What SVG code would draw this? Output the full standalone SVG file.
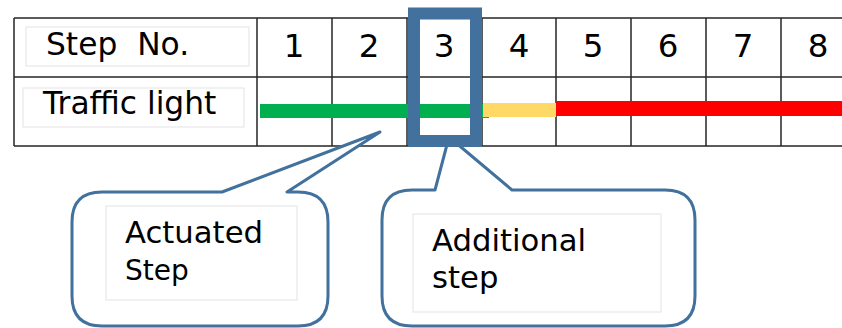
<svg xmlns="http://www.w3.org/2000/svg" width="842" height="328" viewBox="0 0 842 328">
  <style>
    text { font-family: "DejaVu Sans", Verdana, sans-serif; fill: #000; }
    .grid { stroke: #262626; stroke-width: 1.5; fill: none; }
    .lbl { fill: #fff; stroke: #e8e8e8; stroke-width: 1.2; }
    .hd { font-size: 31.3px; }
    .num { font-size: 32.5px; text-anchor: middle; }
    .bubble { fill: #fff; stroke: #41719c; stroke-width: 3; stroke-linejoin: round; }
    .cap { font-size: 30.7px; }
  </style>

  <rect width="842" height="328" fill="#fff"/>

  <!-- step table -->
  <g id="table">
    <path class="grid" d="M14 18 H842 M14 77 H842 M14 146 H842 M14 18 V146
             M257 18 V146 M332 18 V146 M407 18 V146 M482 18 V146
             M556 18 V146 M631 18 V146 M706 18 V146 M781 18 V146"/>
    <rect class="lbl" x="26" y="27" width="223" height="39"/>
    <rect class="lbl" x="23" y="88" width="221" height="39"/>
    <text class="hd" x="46" y="55" xml:space="preserve">Step  No.</text>
    <text class="hd" x="43" y="114">Traffic light</text>
    <text class="num" x="294" y="57">1</text>
    <text class="num" x="369" y="57">2</text>
    <text class="num" x="444" y="57">3</text>
    <text class="num" x="519" y="57">4</text>
    <text class="num" x="593" y="57">5</text>
    <text class="num" x="668" y="57">6</text>
    <text class="num" x="743" y="57">7</text>
    <text class="num" x="818" y="57">8</text>
  </g>

  <!-- signal phases -->
  <g id="signal">
    <rect x="260" y="104" width="229" height="14" fill="#00b050"/>
    <rect x="483" y="103" width="73" height="14" fill="#ffd966"/>
    <rect x="556" y="101" width="286" height="15" fill="#ff0000"/>
  </g>

  <!-- callouts -->
  <g id="actuated">
    <path class="bubble" d="M102 192 H222 L380 132 L287 192 H298 Q328 192 328 222 V296 Q328 326 298 326 H102 Q72 326 72 296 V222 Q72 192 102 192 Z"/>
    <rect class="lbl" x="106" y="206" width="191" height="94"/>
    <text class="cap" x="125" y="243">Actuated</text>
    <text x="125" y="280" font-size="28">Step</text>
  </g>

  <g id="additional">
    <path class="bubble" d="M412 190 H435 L449 137 L512 190 H665 Q695 190 695 220 V296 Q695 326 665 326 H412 Q382 326 382 296 V220 Q382 190 412 190 Z"/>
    <rect class="lbl" x="413" y="214" width="248" height="98"/>
    <text class="cap" x="432" y="251">Additional</text>
    <text class="cap" x="432" y="288">step</text>
  </g>

  <!-- highlight for step 3 -->
  <g id="highlight">
    <rect x="414" y="13.5" width="62" height="127.5" fill="none" stroke="#41719c" stroke-width="12"/>
  </g>
</svg>
